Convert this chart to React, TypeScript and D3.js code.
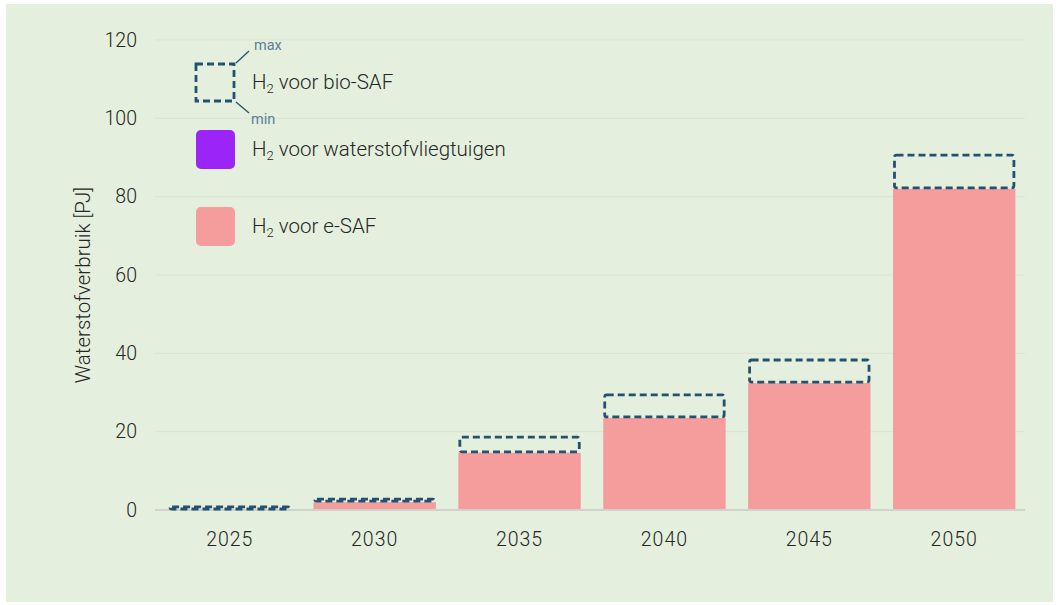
import React from "react";
import * as d3 from "d3";

const years = ["2025", "2030", "2035", "2040", "2045", "2050"];
const eSaf = [0, 2.0, 14.6, 23.5, 32.4, 82.0];
const vliegtuigen = [0, 0, 0, 0, 0, 0];
const bioSafMax = [0.8, 2.8, 18.6, 29.4, 38.3, 90.6];
const yTicks = [0, 20, 40, 60, 80, 100, 120];

const W = 1059;
const H = 605;
const FONT = "Roboto, 'Noto Sans', sans-serif";
const PINK = "#f59d9c";
const PURPLE = "#9b24f7";
const DASH = "#245170";
const TEXT = "#262626";

export default function App() {
  const x = d3.scaleBand<string>().domain(years).range([157, 1027]).paddingInner(0.155).paddingOuter(0.08);
  const y = d3.scaleLinear().domain([0, 120]).range([510, 40]);
  const bw = x.bandwidth();

  const legendText = (label: string, yy: number) => (
    <text x={252} y={yy} fontSize={20.5} fontWeight={300} fill={TEXT}>
      H<tspan fontSize={13} dy={4}>2</tspan>
      <tspan dy={-4}> {label}</tspan>
    </text>
  );

  return (
    <svg width={W} height={H} style={{ position: "absolute", left: 0, top: 0 }} fontFamily={FONT}>
      <rect x={6} y={4} width={1047} height={598} fill="#e4f0dd" />
      {yTicks.map((t) => (
        <g key={t}>
          {t > 0 && <line x1={155} x2={1025} y1={y(t)} y2={y(t)} stroke="#d9e3d2" strokeWidth={1} />}
          <text x={137} y={y(t)} dy="0.35em" textAnchor="end" fontSize={19.5} fontWeight={300} fill={TEXT}>
            {t}
          </text>
        </g>
      ))}
      <text
        transform={`translate(90,${y(60) + 10}) rotate(-90)`}
        textAnchor="middle"
        fontSize={20.5}
        fontWeight={300}
        fill={TEXT}
      >
        Waterstofverbruik [PJ]
      </text>
      {years.map((yr, i) => {
        const x0 = x(yr)!;
        const base = vliegtuigen[i];
        return (
          <g key={yr}>
            {eSaf[i] > 0 && (
              <rect x={x0} y={y(eSaf[i] + base)} width={bw} height={y(base) - y(eSaf[i] + base)} fill={PINK} />
            )}
            {vliegtuigen[i] > 0 && (
              <rect x={x0} y={y(base)} width={bw} height={y(0) - y(base)} fill={PURPLE} />
            )}
          </g>
        );
      })}
      <line x1={155} x2={1025} y1={y(0)} y2={y(0)} stroke="#cfd3cc" strokeWidth={2} />
      {years.map((yr, i) => {
        const x0 = x(yr)!;
        const top = y(bioSafMax[i] + vliegtuigen[i]);
        const bot = y(eSaf[i] + vliegtuigen[i]);
        return (
          <rect
            key={"b" + yr}
            x={x0 + 1.5}
            y={top}
            width={bw - 3}
            height={Math.max(bot - top - 1, 1)}
            fill="none"
            stroke={DASH}
            strokeWidth={2.8}
            strokeDasharray="7,4"
            rx={2}
          />
        );
      })}
      {years.map((yr) => (
        <text
          key={"t" + yr}
          x={x(yr)! + bw / 2}
          y={546}
          textAnchor="middle"
          fontSize={19.5}
          fontWeight={300}
          fill={TEXT}
          letterSpacing={1}
        >
          {yr}
        </text>
      ))}
      {/* Legend */}
      <g>
        <rect x={196} y={64} width={38} height={37} fill="none" stroke={DASH} strokeWidth={2.8} strokeDasharray="7,4" />
        <line x1={236} y1={63} x2={249} y2={51} stroke={DASH} strokeWidth={1.3} />
        <line x1={236} y1={102} x2={249} y2={113} stroke={DASH} strokeWidth={1.3} />
        <text x={254} y={50} fontSize={14.5} fill="#58809a">max</text>
        <text x={251} y={124} fontSize={14.5} fill="#58809a">min</text>
        {legendText("voor bio-SAF", 89)}
        <rect x={196} y={130} width={39} height={39} rx={5} fill={PURPLE} />
        {legendText("voor waterstofvliegtuigen", 156)}
        <rect x={196} y={207} width={39} height={39} rx={5} fill={PINK} />
        {legendText("voor e-SAF", 233)}
      </g>
    </svg>
  );
}
